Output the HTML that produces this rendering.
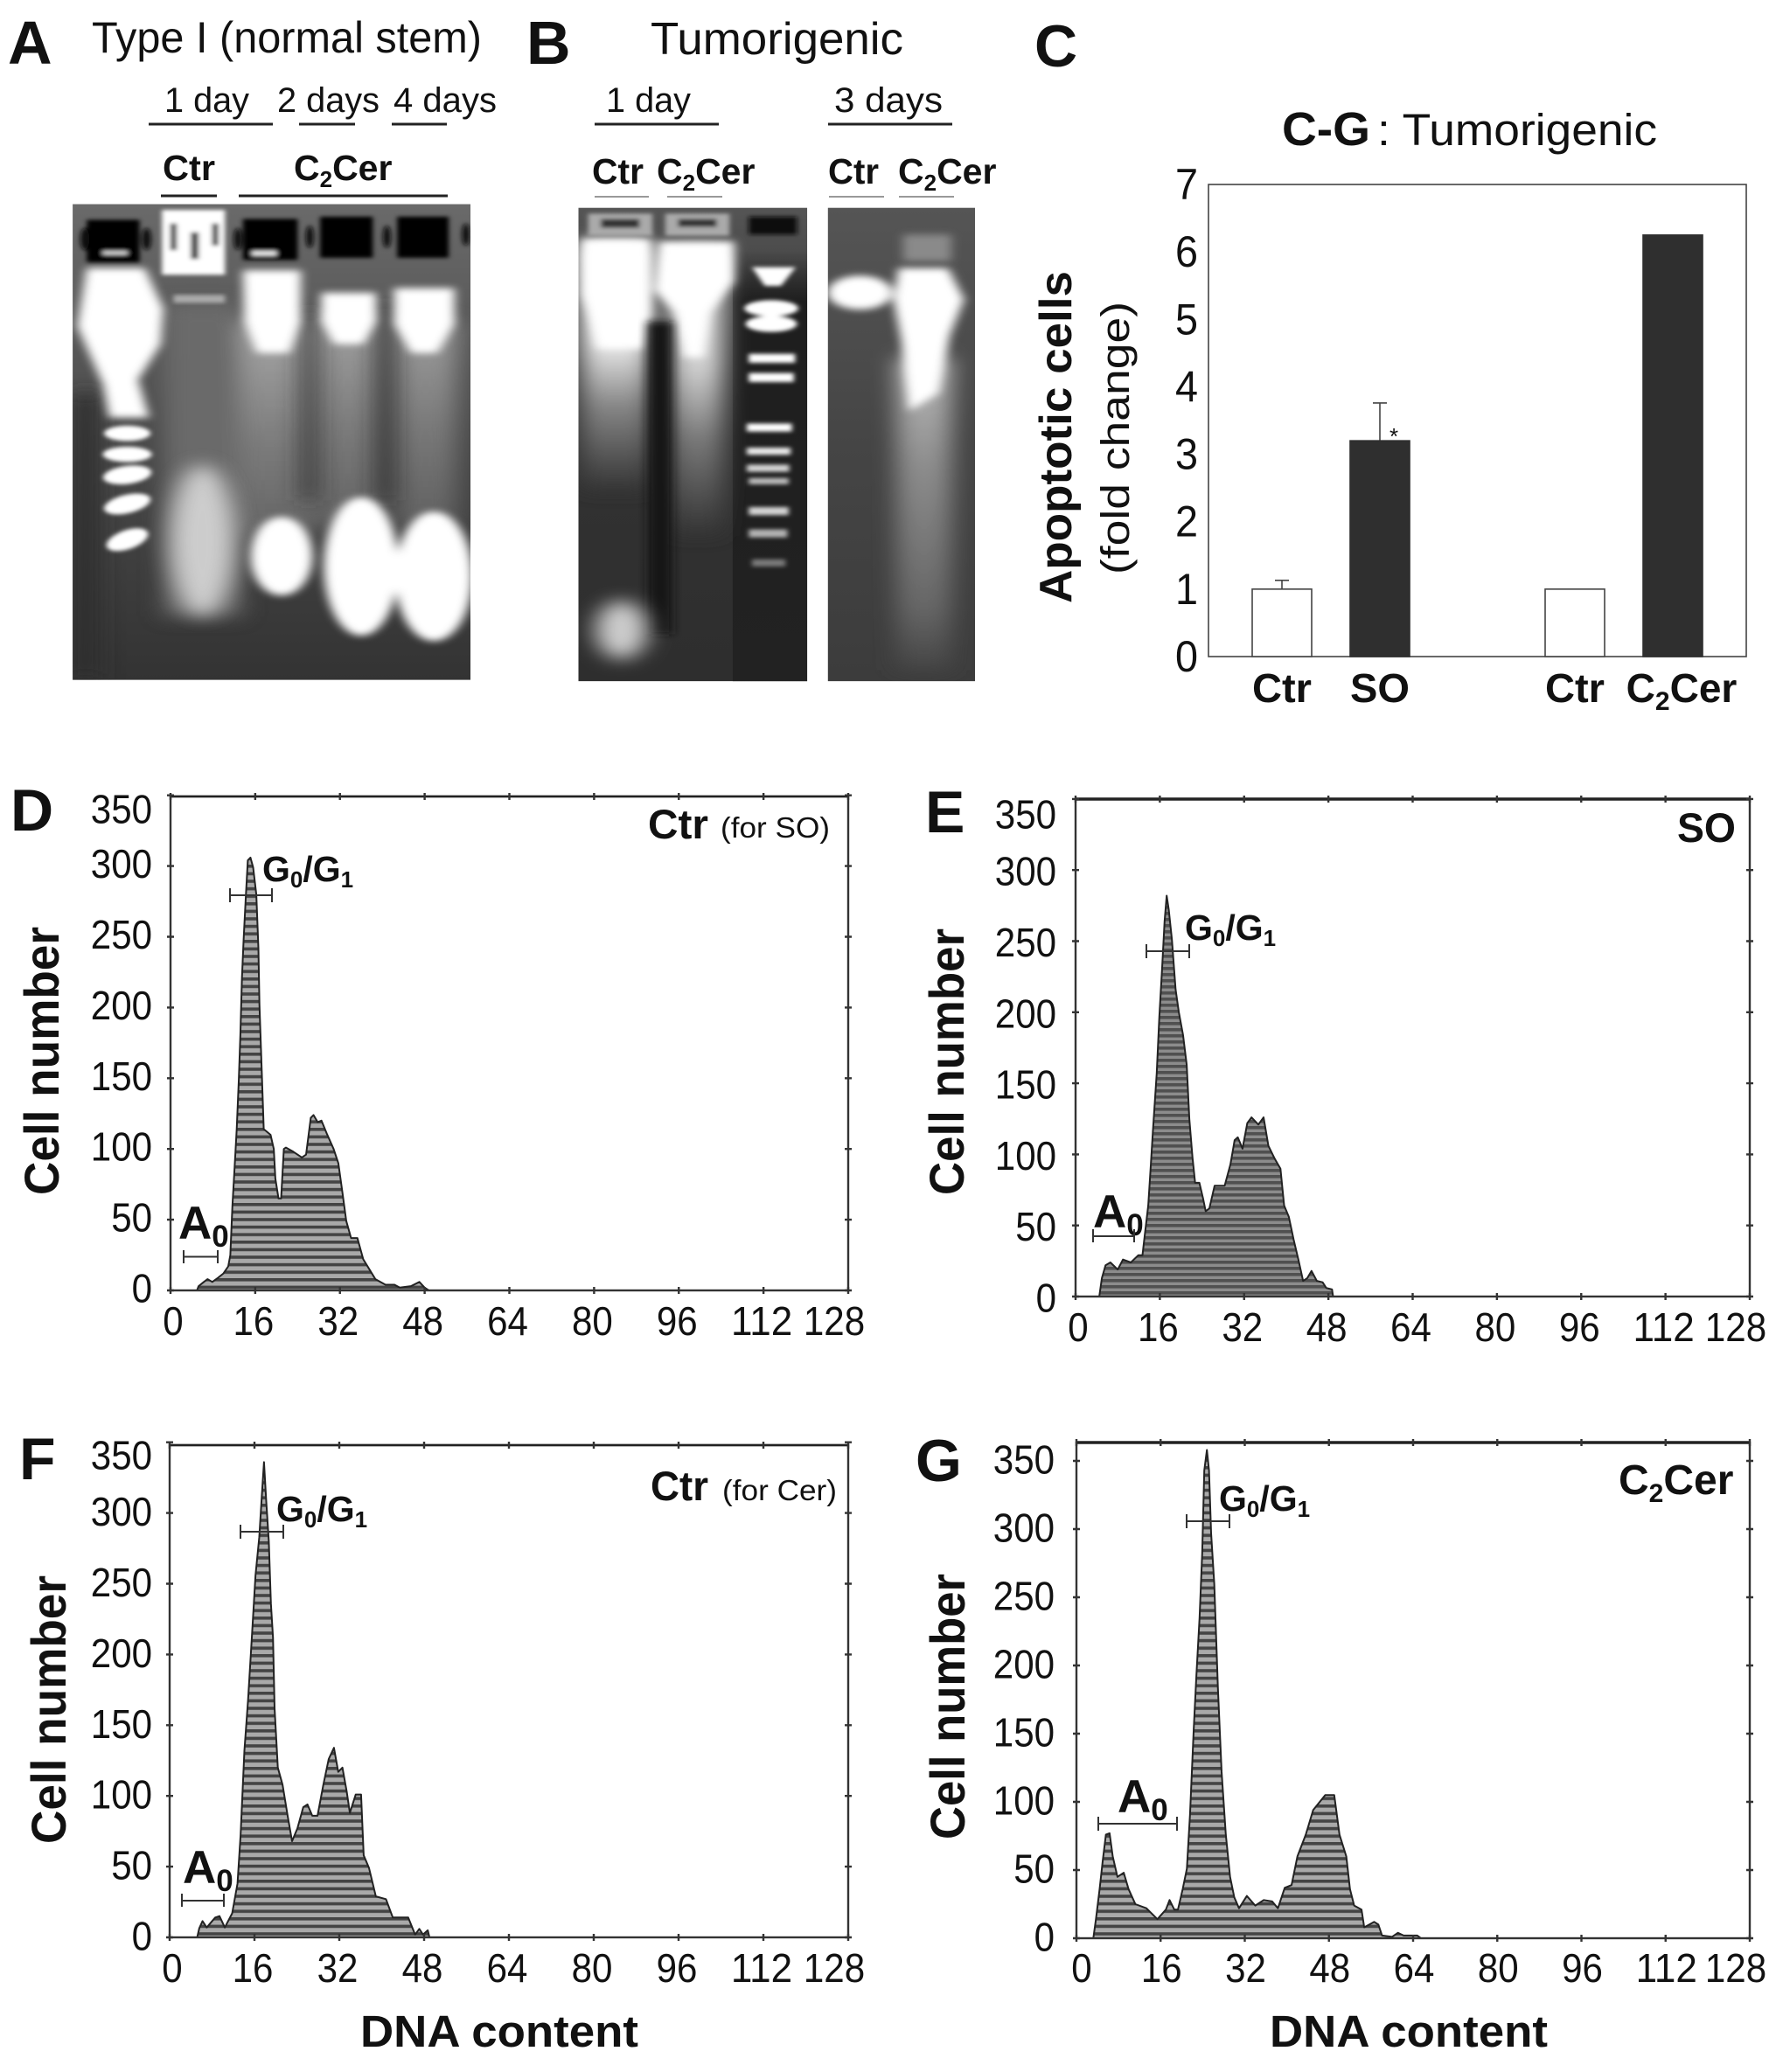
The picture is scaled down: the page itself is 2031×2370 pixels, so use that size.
<!DOCTYPE html>
<html lang="en"><head><meta charset="utf-8"><title>Apoptosis figure</title>
<style>
html,body{margin:0;padding:0;background:#fff}
svg{display:block}
text{font-family:"Liberation Sans",Arial,sans-serif;fill:#111}
.b{font-weight:700}
</style></head>
<body>
<svg id="fig" xmlns="http://www.w3.org/2000/svg" width="2031" height="2370" viewBox="0 0 2031 2370">
<defs>
<filter id="f3" x="-30%" y="-30%" width="160%" height="160%"><feGaussianBlur stdDeviation="4"/></filter>
<filter id="f8" x="-40%" y="-40%" width="180%" height="180%"><feGaussianBlur stdDeviation="8"/></filter>
<filter id="f18" x="-60%" y="-60%" width="220%" height="220%"><feGaussianBlur stdDeviation="18"/></filter>
<filter id="f30" x="-80%" y="-80%" width="260%" height="260%"><feGaussianBlur stdDeviation="30"/></filter>
<linearGradient id="bgA" x1="0" y1="0" x2="0" y2="1"><stop offset="0" stop-color="#6a6a6a"/><stop offset=".5" stop-color="#4a4a4a"/><stop offset="1" stop-color="#333"/></linearGradient>
<linearGradient id="bgB" x1="0" y1="0" x2="0" y2="1"><stop offset="0" stop-color="#555"/><stop offset=".35" stop-color="#333"/><stop offset="1" stop-color="#2e2e2e"/></linearGradient>
<linearGradient id="bgC" x1="0" y1="0" x2="0" y2="1"><stop offset="0" stop-color="#555"/><stop offset=".5" stop-color="#454545"/><stop offset="1" stop-color="#3c3c3c"/></linearGradient>
<linearGradient id="smear" x1="0" y1="0" x2="0" y2="1"><stop offset="0" stop-color="#bbb"/><stop offset=".55" stop-color="#8a8a8a"/><stop offset="1" stop-color="#6e6e6e"/></linearGradient>
<linearGradient id="smearB" x1="0" y1="0" x2="0" y2="1"><stop offset="0" stop-color="#fff"/><stop offset=".4" stop-color="#eee"/><stop offset=".65" stop-color="#888"/><stop offset="1" stop-color="#333"/></linearGradient>
<linearGradient id="smearC" x1="0" y1="0" x2="0" y2="1"><stop offset="0" stop-color="#bbb"/><stop offset=".35" stop-color="#8c8c8c"/><stop offset=".8" stop-color="#666"/><stop offset="1" stop-color="#444"/></linearGradient>
<linearGradient id="darkFade" x1="0" y1="0" x2="0" y2="1"><stop offset="0" stop-color="#1e1e1e" stop-opacity="0"/><stop offset=".12" stop-color="#1e1e1e"/><stop offset="1" stop-color="#222"/></linearGradient>
<pattern id="stripeLight" patternUnits="userSpaceOnUse" width="10" height="8.6"><rect width="10" height="8.6" fill="#a9a9a9"/><rect width="10" height="3.6" fill="#444"/></pattern>
<pattern id="stripeDark" patternUnits="userSpaceOnUse" width="10" height="7"><rect width="10" height="7" fill="#8c8c8c"/><rect width="10" height="3.6" fill="#505050"/></pattern>
<clipPath id="clipA"><rect x="113" y="457" width="619" height="1065"/></clipPath>
<clipPath id="clipB"><rect x="900" y="465" width="356" height="1060"/></clipPath>
<clipPath id="clipC"><rect x="1288" y="465" width="229" height="1060"/></clipPath>
</defs>
<rect width="2031" height="2370" fill="#fff"/>

<!-- Gels drawn in a stretched local coordinate frame -->
<g transform="scale(0.735,0.511)">
<g clip-path="url(#clipA)">
<rect x="113" y="457" width="619" height="1065" fill="url(#bgA)"/>
<g filter="url(#f18)">
<rect x="375" y="720" width="115" height="480" fill="url(#smear)" opacity=".8"/>
<rect x="495" y="700" width="95" height="480" fill="url(#smear)" opacity=".75"/>
<rect x="615" y="720" width="95" height="460" fill="url(#smear)" opacity=".7"/>
<rect x="255" y="680" width="120" height="700" fill="#6a6a6a"/>
</g>
<g filter="url(#f18)" fill="#2f2f2f">
<rect x="113" y="880" width="40" height="640"/>
<rect x="470" y="700" width="20" height="420"/>
<rect x="590" y="680" width="16" height="440"/>
</g>
<g fill="#fff">
<g filter="url(#f8)">
<path d="M135 600H225L254 690 250 770 215 850 232 935H170L160 860 120 730Z"/>
<path d="M378 605H468L468 720 450 790H400L380 720Z"/>
<path d="M500 655H585V720L565 770H520L500 720Z"/>
<path d="M613 645H707V725L680 790H640L613 725Z"/>
</g>
<g filter="url(#f8)">
<ellipse cx="438" cy="1245" rx="48" ry="88"/>
<ellipse cx="562" cy="1268" rx="58" ry="155"/>
<ellipse cx="675" cy="1290" rx="60" ry="145"/>
</g>
<ellipse cx="315" cy="1210" rx="50" ry="170" fill="#d8d8d8" filter="url(#f18)" opacity=".9"/>
<g filter="url(#f3)">
<ellipse cx="198" cy="970" rx="36" ry="17"/>
<ellipse cx="198" cy="1017" rx="38" ry="17"/>
<ellipse cx="198" cy="1063" rx="38" ry="20" transform="rotate(-12 198 1063)"/>
<ellipse cx="198" cy="1128" rx="38" ry="20" transform="rotate(-22 198 1128)"/>
<ellipse cx="198" cy="1208" rx="36" ry="20" transform="rotate(-32 198 1208)"/>
</g>
</g>
<g filter="url(#f3)">
<rect x="135" y="492" width="82" height="95" fill="#000"/>
<rect x="378" y="490" width="85" height="92" fill="#000"/>
<rect x="498" y="485" width="82" height="92" fill="#000"/>
<rect x="618" y="485" width="80" height="92" fill="#000"/>
<rect x="252" y="470" width="98" height="145" fill="#fff"/>
<rect x="160" y="562" width="38" height="8" fill="#ddd"/>
<rect x="392" y="562" width="38" height="10" fill="#eee"/>
<ellipse cx="132" cy="535" rx="7" ry="25" fill="#111"/>
<ellipse cx="228" cy="535" rx="7" ry="25" fill="#111"/>
<ellipse cx="370" cy="535" rx="6" ry="25" fill="#111"/>
<ellipse cx="482" cy="530" rx="6" ry="25" fill="#111"/>
<ellipse cx="602" cy="530" rx="6" ry="25" fill="#111"/>
<ellipse cx="725" cy="525" rx="6" ry="25" fill="#111"/>
<rect x="265" y="500" width="10" height="60" fill="#333"/>
<rect x="297" y="520" width="12" height="60" fill="#333"/>
<rect x="330" y="500" width="10" height="50" fill="#333"/>
</g>
<rect x="270" y="660" width="80" height="18" fill="#aaa" filter="url(#f3)"/>
</g>

<g clip-path="url(#clipB)">
<rect x="900" y="465" width="356" height="1060" fill="url(#bgB)"/>
<rect x="1140" y="560" width="116" height="965" fill="url(#darkFade)"/>
<g filter="url(#f18)">
<rect x="905" y="540" width="105" height="560" fill="url(#smearB)"/>
<rect x="1045" y="560" width="80" height="640" fill="url(#smearB)" opacity=".85"/>
</g>
<g filter="url(#f8)" fill="#fff">
<path d="M905 535H1012L1012 700 1000 780H930L915 700 905 660Z"/>
<path d="M1025 540H1142V630L1105 700 1095 800H1065L1050 700 1018 650Z"/>
</g>
<rect x="1008" y="720" width="38" height="700" fill="#161616" filter="url(#f8)"/>
<ellipse cx="967" cy="1410" rx="40" ry="65" fill="#ccc" filter="url(#f18)"/>
<g filter="url(#f3)" fill="#fff">
<path d="M1170 598H1238L1215 640H1190Z"/>
<ellipse cx="1200" cy="690" rx="42" ry="18"/><ellipse cx="1200" cy="725" rx="40" ry="18"/>
<rect x="1165" y="792" width="72" height="20"/><rect x="1165" y="835" width="70" height="20"/>
<rect x="1162" y="948" width="70" height="18"/><rect x="1162" y="1002" width="68" height="16" opacity=".9"/>
<rect x="1162" y="1040" width="66" height="16" opacity=".8"/><rect x="1165" y="1070" width="62" height="14" opacity=".7"/>
<rect x="1165" y="1135" width="62" height="18" opacity=".8"/><rect x="1165" y="1185" width="60" height="18" opacity=".65"/>
<rect x="1170" y="1252" width="52" height="16" opacity=".4"/>
<rect x="1165" y="485" width="75" height="40" fill="#111"/>
</g>
<g filter="url(#f3)">
<rect x="915" y="478" width="100" height="50" fill="#aaa"/><rect x="1035" y="478" width="100" height="50" fill="#aaa"/>
<rect x="935" y="490" width="60" height="20" fill="#333"/><rect x="1055" y="490" width="60" height="18" fill="#333"/>
</g>
</g>

<g clip-path="url(#clipC)">
<rect x="1288" y="465" width="229" height="1060" fill="url(#bgC)"/>
<rect x="1395" y="800" width="85" height="700" fill="url(#smearC)" filter="url(#f18)"/>
<g filter="url(#f8)" fill="#fff">
<ellipse cx="1338" cy="655" rx="50" ry="38"/>
<path d="M1398 600H1475L1500 670 1478 750 1460 880 1415 920 1402 760 1390 670Z"/>
</g>
<rect x="1405" y="525" width="75" height="60" fill="#8a8a8a" filter="url(#f8)"/>
</g>
</g>

<!-- Panel A and B labels -->
<text class="b" x="9" y="73" font-size="70">A</text>
<text x="105" y="60" font-size="50" textLength="446" lengthAdjust="spacingAndGlyphs">Type I (normal stem)</text>
<text class="b" x="602" y="73" font-size="70">B</text>
<text x="744" y="62" font-size="52" textLength="289" lengthAdjust="spacingAndGlyphs">Tumorigenic</text>
<g font-size="40">
<text x="188" y="128" textLength="97" lengthAdjust="spacingAndGlyphs">1 day</text>
<text x="317" y="128" textLength="117" lengthAdjust="spacingAndGlyphs">2 days</text>
<text x="450" y="128" textLength="118" lengthAdjust="spacingAndGlyphs">4 days</text>
<text x="693" y="128" textLength="97" lengthAdjust="spacingAndGlyphs">1 day</text>
<text x="954" y="128" textLength="124" lengthAdjust="spacingAndGlyphs">3 days</text>
</g>
<g stroke="#222" stroke-width="3">
<line x1="170" y1="142" x2="312" y2="142"/><line x1="342" y1="142" x2="406" y2="142"/><line x1="448" y1="142" x2="511" y2="142"/>
<line x1="680" y1="142" x2="822" y2="142"/><line x1="947" y1="142" x2="1089" y2="142"/>
<line x1="184" y1="224" x2="248" y2="224"/><line x1="273" y1="224" x2="512" y2="224"/>
</g>
<g stroke="#999" stroke-width="2">
<line x1="680" y1="225" x2="742" y2="225"/><line x1="763" y1="225" x2="826" y2="225"/><line x1="948" y1="225" x2="1011" y2="225"/><line x1="1028" y1="225" x2="1091" y2="225"/>
</g>
<g class="b" font-size="41">
<text class="b" x="186" y="206" textLength="60" lengthAdjust="spacingAndGlyphs">Ctr</text>
<text class="b" x="336" y="206">C<tspan font-size="26" dy="8">2</tspan><tspan dy="-8">Cer</tspan></text>
<text class="b" x="677" y="210" textLength="59" lengthAdjust="spacingAndGlyphs">Ctr</text>
<text class="b" x="751" y="210">C<tspan font-size="26" dy="8">2</tspan><tspan dy="-8">Cer</tspan></text>
<text class="b" x="947" y="210" textLength="58" lengthAdjust="spacingAndGlyphs">Ctr</text>
<text class="b" x="1027" y="210">C<tspan font-size="26" dy="8">2</tspan><tspan dy="-8">Cer</tspan></text>
</g>

<!-- Panel C static labels -->
<text class="b" x="1183" y="76" font-size="68">C</text>
<text class="b" x="1466" y="166" font-size="54" textLength="101" lengthAdjust="spacingAndGlyphs">C-G</text>
<text x="1575" y="166" font-size="51" textLength="320" lengthAdjust="spacingAndGlyphs">: Tumorigenic</text>
<text class="b" transform="translate(1225,690) rotate(-90)" font-size="52" textLength="380" lengthAdjust="spacingAndGlyphs">Apoptotic cells</text>
<text transform="translate(1291,657) rotate(-90)" font-size="45" textLength="312" lengthAdjust="spacingAndGlyphs">(fold change)</text>
<g id="barChart"></g>
<text x="1594" y="508" font-size="26" text-anchor="middle">*</text>

<!-- Histogram panels -->
<g id="histD"></g>
<g id="histE"></g>
<g id="histF"></g>
<g id="histG"></g>

<text class="b" x="12" y="950" font-size="68">D</text>
<text class="b" x="1058" y="952" font-size="68">E</text>
<text class="b" x="22" y="1692" font-size="68">F</text>
<text class="b" x="1047" y="1694" font-size="68">G</text>

<text class="b" transform="translate(67,1367) rotate(-90)" font-size="56" textLength="307" lengthAdjust="spacingAndGlyphs">Cell number</text>
<text class="b" transform="translate(1102,1367) rotate(-90)" font-size="56" textLength="305" lengthAdjust="spacingAndGlyphs">Cell number</text>
<text class="b" transform="translate(75,2109) rotate(-90)" font-size="56" textLength="307" lengthAdjust="spacingAndGlyphs">Cell number</text>
<text class="b" transform="translate(1103,2104) rotate(-90)" font-size="56" textLength="304" lengthAdjust="spacingAndGlyphs">Cell number</text>
<text class="b" x="412" y="2341" font-size="51" textLength="318" lengthAdjust="spacingAndGlyphs">DNA content</text>
<text class="b" x="1452" y="2341" font-size="51" textLength="318" lengthAdjust="spacingAndGlyphs">DNA content</text>

<g>
<text class="b" x="741" y="959" font-size="47" textLength="69" lengthAdjust="spacingAndGlyphs">Ctr</text>
<text x="824" y="958" font-size="33" textLength="125" lengthAdjust="spacingAndGlyphs">(for SO)</text>
<text class="b" x="300" y="1008" font-size="41">G<tspan font-size="26" dy="7">0</tspan><tspan dy="-7">/G</tspan><tspan font-size="26" dy="7">1</tspan></text>
<text class="b" x="204" y="1417" font-size="53">A<tspan font-size="35" dy="9">0</tspan></text>
<path d="M263 1016v16M263 1024H311M311 1016v16M210 1430v15M210 1437.500H249M249 1430v15" fill="none" stroke="#333" stroke-width="2"/>
</g>
<g>
<text class="b" x="1918" y="963" font-size="47" textLength="67" lengthAdjust="spacingAndGlyphs">SO</text>
<text class="b" x="1355" y="1075" font-size="41">G<tspan font-size="26" dy="7">0</tspan><tspan dy="-7">/G</tspan><tspan font-size="26" dy="7">1</tspan></text>
<text class="b" x="1250" y="1404" font-size="53">A<tspan font-size="35" dy="9">0</tspan></text>
<path d="M1311 1080v16M1311 1088H1360M1360 1080v16M1250 1406v15M1250 1414H1297M1297 1406v15" fill="none" stroke="#333" stroke-width="2"/>
</g>
<g>
<text class="b" x="744" y="1716" font-size="47" textLength="66" lengthAdjust="spacingAndGlyphs">Ctr</text>
<text x="826" y="1716" font-size="33" textLength="131" lengthAdjust="spacingAndGlyphs">(for Cer)</text>
<text class="b" x="316" y="1740" font-size="41">G<tspan font-size="26" dy="7">0</tspan><tspan dy="-7">/G</tspan><tspan font-size="26" dy="7">1</tspan></text>
<text class="b" x="209" y="2154" font-size="53">A<tspan font-size="35" dy="9">0</tspan></text>
<path d="M275 1744v16M275 1752H324M324 1744v16M208 2166v15M208 2174H256M256 2166v15" fill="none" stroke="#333" stroke-width="2"/>
</g>
<g>
<text class="b" x="1851" y="1709" font-size="48">C<tspan font-size="30" dy="9">2</tspan><tspan dy="-9">Cer</tspan></text>
<text class="b" x="1394" y="1728" font-size="41">G<tspan font-size="26" dy="7">0</tspan><tspan dy="-7">/G</tspan><tspan font-size="26" dy="7">1</tspan></text>
<text class="b" x="1278" y="2073" font-size="53">A<tspan font-size="35" dy="9">0</tspan></text>
<path d="M1357 1732v16M1357 1740H1406M1406 1732v16M1256 2078v16M1256 2086H1346M1346 2078v16" fill="none" stroke="#333" stroke-width="2"/>
</g>

<script>
// ---- Bar chart values ----
const barCategories = ['Ctr', 'SO', 'Ctr', 'C2Cer'];
const barValues = [1, 3.2, 1, 6.25];
const barErrors = [0.13, 0.56, 0, 0];
const barTicks = [0, 1, 2, 3, 4, 5, 6, 7];

// ---- Histogram values ----
const xTickLabels = [0, 16, 32, 48, 64, 80, 96, 112, 128];
const yTickLabels = [0, 50, 100, 150, 200, 250, 300, 350];

const dnaD = [5,5.3,6.3,7,7.9,9,10,10.9,11.3,11.7,12.1,12.5,12.9,13.2,13.5,13.8,14.2,14.6,15.1,15.6,16.2,16.6,16.8,17.2,17.6,18.9,19.5,19.8,20.4,20.9,21.4,21.8,23.2,24.8,25.6,26.5,27,27.8,28.5,29.5,30.8,31.7,32.4,33.2,34.1,35.3,36.4,37.7,38.7,40.6,42.3,43.3,45.4,47,48,48.8];
const countD = [0,3,6,8,6,9,12,17,25,60,87,114,149,181,221,248,277,304,306,299,280,242,202,159,114,110,100,79,65,65,100,101,98,94,96,122,124,119,120,111,100,90,71,49,37,37,22,14,8,4,4,2,3,6,2,0];

const dnaE = [4.5,5,5.7,6.6,8,9,10.5,11.9,12.7,13.1,13.8,14.3,14.7,15.4,15.9,16.4,16.9,17.3,17.7,18.3,19,19.6,20.4,21.1,21.6,22.2,22.7,23.5,24.2,24.7,25.4,26.4,28.3,29.4,30.2,30.8,31.7,32.6,33.4,34.7,35.7,36.6,37.8,38.9,39.6,40.5,41.4,42.3,43.2,44,44.8,45.8,46.9,47.6,48.7,48.9];
const countE = [0,13,22,24,19,26,24,29,29,42,64,93,117,157,197,229,264,282,272,251,216,200,184,163,125,98,80,80,69,60,62,78,78,93,110,112,104,122,126,121,126,106,97,90,64,56,40,26,11,13,18,11,10,6,5,0];

const dnaF = [5.2,5.6,6.2,7,8.6,9.4,10.4,11.8,12.8,13.4,14.1,14.8,15.5,16.2,16.9,17.4,17.8,18.2,18.7,19.1,19.5,19.8,20.4,21.3,22.3,23.1,24.1,25.2,26,26.9,27.9,29,30,31,31.8,32.6,33.4,34,35.1,36.1,36.6,37.6,38.9,40.8,42.1,45,46.3,47.1,47.8,48.7,49];
const countF = [0,6.5,11.5,7,14,15,7,17,38,73,132,168,212,256,283,313,336,310,280,236,212,162,120,108,85,68,77,92,94,86,86,108,126,134,117,120,103,88,101,101,58,49,29,27,14,14,2,6,2,5,0];

const dnaG = [3.2,3.7,4.4,5,5.6,6.3,6.9,7.8,9,9.9,11.2,13.3,15.4,17,17.7,18.6,19.3,20.2,21,21.6,22.3,22.8,23.4,23.9,24.3,24.8,25.2,25.6,26.2,26.9,27.6,28.4,29.2,30,30.9,32.4,34,35.6,37.2,38.3,39.6,40.9,42,43.6,45,47.3,49,50,51.3,52,52.8,54.2,54.7,56.6,57.4,58.1,60,61.1,62.2,64.8,65.5];
const countG = [0,14,36,57,76,77,60,45,48,36,25,22,14,21,28,21,21,36,51,91,153,193,235,282,343,358,343,297,260,183,122,76,45,30,22,31,24,28,27,22,37,39,60,76,94,105,105,76,60,36,24,21,8,12,10,2,1,4,2,2,0];

const SVGNS = 'http://www.w3.org/2000/svg';
function mk(tag, parent, attrs) {
  const el = document.createElementNS(SVGNS, tag);
  for (const k in attrs) el.setAttribute(k, attrs[k]);
  parent.appendChild(el);
  return el;
}

// ---- Bar chart ----
(function () {
  const root = document.getElementById('barChart');
  const left = 1382, right = 1997, top = 211, bottom = 751;
  const yScale = v => bottom - v * (bottom - top) / 7;
  const barCenters = i => [1466, 1578, 1801, 1913][i];
  const barWidth = 68;
  const frame = mk('rect', root, { x: left, y: top, width: right - left, height: bottom - top, fill: '#fff', stroke: '#444', 'stroke-width': 1.6 });
  
  
  barTicks.forEach(t => {
    const lab = mk('text', root, { x: 1370, y: yScale(t) + 17, 'font-size': 50, 'text-anchor': 'end', textLength: 26, lengthAdjust: 'spacingAndGlyphs' });
    lab.textContent = t;
    
    
  });
  barCategories.forEach((c, i) => {
    const cx = barCenters(i);
    const dark = i % 2 === 1;
    if (barErrors[i] > 0) {
      const hi = yScale(barValues[i] + barErrors[i]);
      const err = mk('path', root, { d: 'M' + cx + ' ' + yScale(barValues[i]) + 'V' + hi + 'M' + (cx - 8) + ' ' + hi + 'H' + (cx + 8), stroke: '#444', 'stroke-width': 1.6, fill: 'none' });
      
      
    }
    const bar = mk('rect', root, { x: cx - barWidth / 2, y: yScale(barValues[i]), width: barWidth, height: bottom - yScale(barValues[i]), fill: dark ? '#2f2f2f' : '#fff', stroke: dark ? '#2f2f2f' : '#444', 'stroke-width': 1.6 });
    
    
    const lab = mk('text', root, { x: c === 'C2Cer' ? 1923 : cx, y: 803, 'font-size': 46, 'font-weight': 700, 'text-anchor': 'middle' });
    
    
    if (c === 'C2Cer') {
      lab.appendChild(document.createTextNode('C'));
      mk('tspan', lab, { 'font-size': 30, dy: 9 }).textContent = '2';
      mk('tspan', lab, { dy: -9 }).textContent = 'Cer';
    } else {
      lab.textContent = c;
      lab.setAttribute('textLength', 68);
      lab.setAttribute('lengthAdjust', 'spacingAndGlyphs');
    }
  });
})();

// ---- Histograms ----
function drawHistogram(id, key, dna, counts, cfg) {
  const root = document.getElementById(id);
  const xScale = v => cfg.left + v * (cfg.right - cfg.left) / 128;
  const yScale = v => cfg.zero - v * cfg.per50 / 50;
  let d = 'M' + xScale(dna[0]).toFixed(1) + ' ' + yScale(0).toFixed(1);
  dna.forEach((x, i) => { d += 'L' + xScale(x).toFixed(1) + ' ' + yScale(counts[i]).toFixed(1); });
  d += 'Z';
  const area = mk('path', root, { d: d, fill: 'url(#' + cfg.pattern + ')', stroke: '#222', 'stroke-width': 2, 'stroke-linejoin': 'round' });
  
  

  const frame = mk('rect', root, { x: cfg.left, y: cfg.top, width: cfg.right - cfg.left, height: cfg.zero - cfg.top, fill: 'none', stroke: '#333', 'stroke-width': 2.4 });
  
  
  const topLine = mk('line', root, { x1: cfg.left, x2: cfg.right, y1: cfg.top, y2: cfg.top, stroke: '#222', 'stroke-width': cfg.topWidth });
  
  

  xTickLabels.forEach((t, i) => {
    const x = xScale(t);
    const tick = mk('path', root, { d: 'M' + x + ' ' + (cfg.top - 4) + 'v8M' + x + ' ' + (cfg.zero - 4) + 'v8', stroke: '#333', 'stroke-width': 2.4 });
    
    
    const last = i === xTickLabels.length - 1;
    const first = i === 0;
    const lab = mk('text', root, { x: x + (last ? -16 : first ? cfg.xLabelShift + 5 : cfg.xLabelShift), y: cfg.xLabelBase, 'font-size': 46, 'text-anchor': 'middle', textLength: String(t).length * 23.4, lengthAdjust: 'spacingAndGlyphs' });
    lab.textContent = t;
    
    
  });
  yTickLabels.forEach(t => {
    const y = yScale(t);
    const tick = mk('path', root, { d: 'M' + (cfg.left - 4) + ' ' + y + 'h8M' + (cfg.right - 4) + ' ' + y + 'h8', stroke: '#333', 'stroke-width': 2.4 });
    
    
    const cy = Math.max(y + cfg.yLabelShift, cfg.minLabelY);
    const lab = mk('text', root, { x: cfg.yLabelRight, y: cy + 16.5, 'font-size': 46, 'text-anchor': 'end', textLength: String(t).length * 23.4, lengthAdjust: 'spacingAndGlyphs' });
    lab.textContent = t;
    
    
  });
}
drawHistogram('histD', 'd', dnaD, countD, { left: 195, right: 970, top: 911, zero: 1476, per50: 80.9, pattern: 'stripeLight', topWidth: 2.4, xLabelBase: 1527, xLabelShift: -2, yLabelRight: 174, yLabelShift: -3, minLabelY: 925 });
drawHistogram('histE', 'e', dnaE, countE, { left: 1230, right: 2001, top: 914, zero: 1483, per50: 81.3, pattern: 'stripeDark', topWidth: 3.5, xLabelBase: 1534, xLabelShift: -2, yLabelRight: 1208, yLabelShift: 1, minLabelY: 931 });
drawHistogram('histF', 'f', dnaF, countF, { left: 194, right: 970, top: 1653, zero: 2216, per50: 80.9, pattern: 'stripeLight', topWidth: 2.4, xLabelBase: 2267, xLabelShift: -2, yLabelRight: 174, yLabelShift: -2, minLabelY: 1664 });
drawHistogram('histG', 'g', dnaG, countG, { left: 1231, right: 2001, top: 1650, zero: 2217, per50: 78, pattern: 'stripeLight', topWidth: 3.5, xLabelBase: 2267, xLabelShift: 1, yLabelRight: 1206, yLabelShift: -2, minLabelY: 1660 });
</script>
</svg>
</body></html>
